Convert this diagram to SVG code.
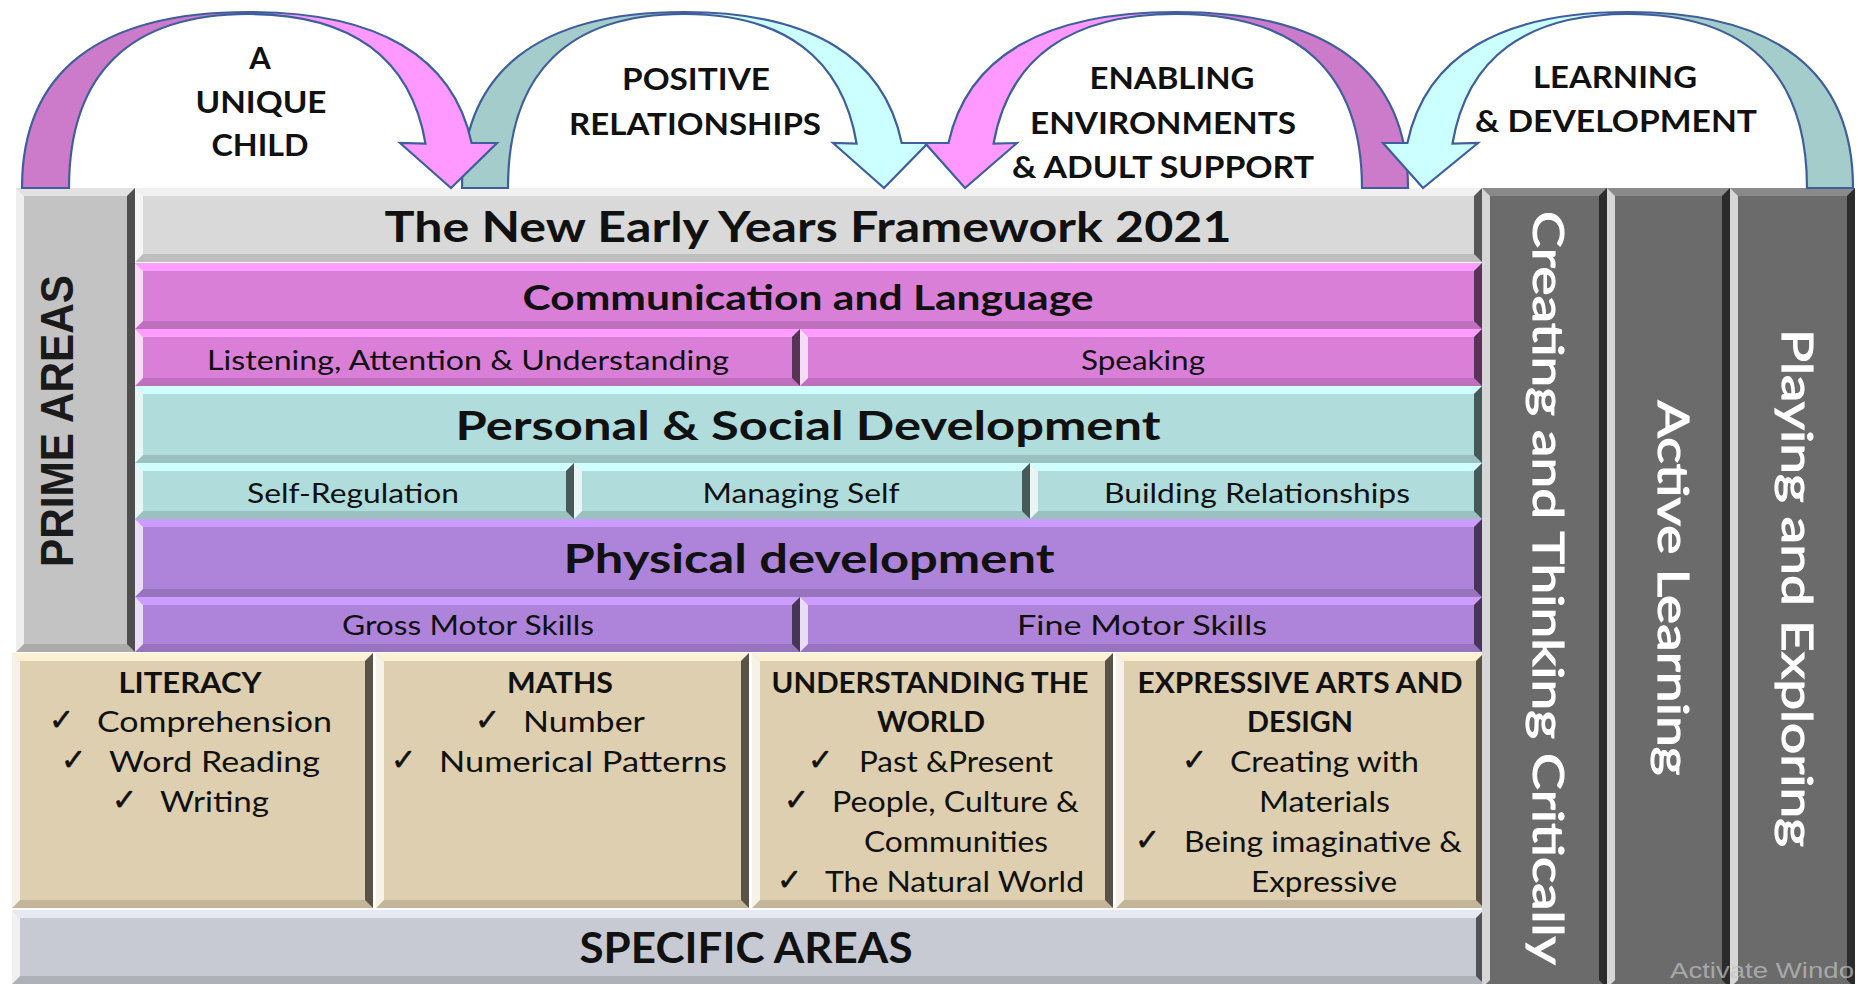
<svg xmlns="http://www.w3.org/2000/svg" width="1858" height="984" viewBox="0 0 1858 984">
<style>
.t{font-family:Lato,"Liberation Sans",sans-serif;fill:#111}
.b{font-weight:700}
.ck{font-family:"DejaVu Sans",sans-serif;font-size:30px;fill:#111;stroke:#111;stroke-width:0.6}
.it{font-size:28px}
.sub{font-size:27px}
.hd{font-size:28px;font-weight:700}
.arcl{font-size:31px;font-weight:700}
.colt{font-size:43px;fill:#fff;stroke:#fff;stroke-width:1.1}
.arc{stroke:#3F5F9C;stroke-width:2.2;stroke-linejoin:miter}
.dpk{fill:#CC7ACA}.lpk{fill:#FF99FF}.dtl{fill:#A3CCCB}.ltl{fill:#CCFFFF}
.bb{fill:#000;fill-opacity:.12}
.bl{fill:#fff;fill-opacity:.72}
.br{fill:#000;fill-opacity:.6}
.c-grey{fill:#D9D9D9}.t-grey{fill:#F1F1F1}
.c-prime{fill:#C3C3C3}.t-prime{fill:#E2E2E2}
.c-pk{fill:#DA7FD8}.t-pk{fill:#FF9CFF}
.c-tl{fill:#B0DCDB}.t-tl{fill:#CFFFFF}
.c-pu{fill:#AE84DA}.t-pu{fill:#CC9CFF}
.c-tan{fill:#DDCFAF}.t-tan{fill:#FDF1D3}
.c-spec{fill:#C8CAD3}.t-spec{fill:#E6E8F2}
.c-col{fill:#6B6B6B}.t-col{fill:#8A8A8A}
</style>
<rect width="1858" height="984" fill="#fff"/>

<g id="prime-areas">
<rect class="c-prime" x="16" y="188" width="119" height="464"/>
<path class="bb" d="M16,652 h119 l-8,-8 h-103 z"/><path class="t-prime" d="M16,188 h119 l-8,8 h-103 z"/>
<path class="bl" d="M16,188 l8,8 v448 l-8,8 z"/><path class="br" d="M135,188 l-8,8 v448 l8,8 z"/>
<text class="b" transform="translate(73,421) rotate(-90)" text-anchor="middle" font-family="'Liberation Sans',Arial,sans-serif" font-size="47" fill="#1a1a1a" textLength="292" lengthAdjust="spacingAndGlyphs">PRIME AREAS</text>
</g>

<g id="title">
<rect class="c-grey" x="135" y="188" width="1347" height="74"/>
<path class="bb" d="M135,262 h1347 l-8,-8 h-1331 z"/><path class="t-grey" d="M135,188 h1347 l-8,8 h-1331 z"/>
<path class="bl" d="M135,188 l8,8 v58 l-8,8 z"/><path class="br" d="M1482,188 l-8,8 v58 l8,8 z"/>
<text class="t b" x="808" y="242" font-size="42" text-anchor="middle" textLength="847" lengthAdjust="spacingAndGlyphs">The New Early Years Framework 2021</text>
</g>

<g id="communication-language">
<rect class="c-pk" x="135" y="263" width="1347" height="66"/>
<path class="bb" d="M135,329 h1347 l-8,-8 h-1331 z"/><path class="t-pk" d="M135,263 h1347 l-8,8 h-1331 z"/>
<path class="bl" d="M135,263 l8,8 v50 l-8,8 z"/><path class="br" d="M1482,263 l-8,8 v50 l8,8 z"/>
<text class="t b" x="808" y="310" font-size="35" text-anchor="middle" textLength="571" lengthAdjust="spacingAndGlyphs">Communication and Language</text>
</g>
<g id="listening">
<rect class="c-pk" x="135" y="329" width="665" height="57"/>
<path class="bb" d="M135,386 h665 l-8,-8 h-649 z"/><path class="t-pk" d="M135,329 h665 l-8,8 h-649 z"/>
<path class="bl" d="M135,329 l8,8 v41 l-8,8 z"/><path class="br" d="M800,329 l-8,8 v41 l8,8 z"/>
<text class="t sub" x="468" y="370" text-anchor="middle" textLength="522" lengthAdjust="spacingAndGlyphs">Listening, Attention &amp; Understanding</text>
</g>
<g id="speaking">
<rect class="c-pk" x="800" y="329" width="682" height="57"/>
<path class="bb" d="M800,386 h682 l-8,-8 h-666 z"/><path class="t-pk" d="M800,329 h682 l-8,8 h-666 z"/>
<path class="bl" d="M800,329 l8,8 v41 l-8,8 z"/><path class="br" d="M1482,329 l-8,8 v41 l8,8 z"/>
<text class="t sub" x="1143" y="370" text-anchor="middle" textLength="124" lengthAdjust="spacingAndGlyphs">Speaking</text>
</g>

<g id="personal-social">
<rect class="c-tl" x="135" y="386" width="1347" height="77"/>
<path class="bb" d="M135,463 h1347 l-8,-8 h-1331 z"/><path class="t-tl" d="M135,386 h1347 l-8,8 h-1331 z"/>
<path class="bl" d="M135,386 l8,8 v61 l-8,8 z"/><path class="br" d="M1482,386 l-8,8 v61 l8,8 z"/>
<text class="t b" x="808" y="440" font-size="40" text-anchor="middle" textLength="705" lengthAdjust="spacingAndGlyphs">Personal &amp; Social Development</text>
</g>
<g id="self-regulation">
<rect class="c-tl" x="135" y="463" width="439" height="56"/>
<path class="bb" d="M135,519 h439 l-8,-8 h-423 z"/><path class="t-tl" d="M135,463 h439 l-8,8 h-423 z"/>
<path class="bl" d="M135,463 l8,8 v40 l-8,8 z"/><path class="br" d="M574,463 l-8,8 v40 l8,8 z"/>
<text class="t sub" x="353" y="503" text-anchor="middle" textLength="212" lengthAdjust="spacingAndGlyphs">Self-Regulation</text>
</g>
<g id="managing-self">
<rect class="c-tl" x="574" y="463" width="456" height="56"/>
<path class="bb" d="M574,519 h456 l-8,-8 h-440 z"/><path class="t-tl" d="M574,463 h456 l-8,8 h-440 z"/>
<path class="bl" d="M574,463 l8,8 v40 l-8,8 z"/><path class="br" d="M1030,463 l-8,8 v40 l8,8 z"/>
<text class="t sub" x="801" y="503" text-anchor="middle" textLength="197" lengthAdjust="spacingAndGlyphs">Managing Self</text>
</g>
<g id="building-relationships">
<rect class="c-tl" x="1030" y="463" width="452" height="56"/>
<path class="bb" d="M1030,519 h452 l-8,-8 h-436 z"/><path class="t-tl" d="M1030,463 h452 l-8,8 h-436 z"/>
<path class="bl" d="M1030,463 l8,8 v40 l-8,8 z"/><path class="br" d="M1482,463 l-8,8 v40 l8,8 z"/>
<text class="t sub" x="1257" y="503" text-anchor="middle" textLength="306" lengthAdjust="spacingAndGlyphs">Building Relationships</text>
</g>

<g id="physical-development">
<rect class="c-pu" x="135" y="519" width="1347" height="78"/>
<path class="bb" d="M135,597 h1347 l-8,-8 h-1331 z"/><path class="t-pu" d="M135,519 h1347 l-8,8 h-1331 z"/>
<path class="bl" d="M135,519 l8,8 v62 l-8,8 z"/><path class="br" d="M1482,519 l-8,8 v62 l8,8 z"/>
<text class="t b" x="809" y="573" font-size="40" text-anchor="middle" textLength="491" lengthAdjust="spacingAndGlyphs">Physical development</text>
</g>
<g id="gross-motor">
<rect class="c-pu" x="135" y="597" width="665" height="55"/>
<path class="bb" d="M135,652 h665 l-8,-8 h-649 z"/><path class="t-pu" d="M135,597 h665 l-8,8 h-649 z"/>
<path class="bl" d="M135,597 l8,8 v39 l-8,8 z"/><path class="br" d="M800,597 l-8,8 v39 l8,8 z"/>
<text class="t sub" x="468" y="635" text-anchor="middle" textLength="252" lengthAdjust="spacingAndGlyphs">Gross Motor Skills</text>
</g>
<g id="fine-motor">
<rect class="c-pu" x="800" y="597" width="682" height="55"/>
<path class="bb" d="M800,652 h682 l-8,-8 h-666 z"/><path class="t-pu" d="M800,597 h682 l-8,8 h-666 z"/>
<path class="bl" d="M800,597 l8,8 v39 l-8,8 z"/><path class="br" d="M1482,597 l-8,8 v39 l8,8 z"/>
<text class="t sub" x="1142" y="635" text-anchor="middle" textLength="250" lengthAdjust="spacingAndGlyphs">Fine Motor Skills</text>
</g>

<g id="literacy">
<rect class="c-tan" x="12" y="653" width="361" height="255"/>
<path class="bb" d="M12,908 h361 l-8,-8 h-345 z"/><path class="t-tan" d="M12,653 h361 l-8,8 h-345 z"/>
<path class="bl" d="M12,653 l8,8 v239 l-8,8 z"/><path class="br" d="M373,653 l-8,8 v239 l8,8 z"/>
<text class="t hd" x="190" y="693" text-anchor="middle" textLength="143" lengthAdjust="spacingAndGlyphs">LITERACY</text>
<text class="ck" x="49" y="730">✓</text><text class="t it" x="97" y="732" textLength="235" lengthAdjust="spacingAndGlyphs">Comprehension</text>
<text class="ck" x="61" y="770">✓</text><text class="t it" x="109" y="772" textLength="211" lengthAdjust="spacingAndGlyphs">Word Reading</text>
<text class="ck" x="112" y="810">✓</text><text class="t it" x="160" y="812" textLength="109" lengthAdjust="spacingAndGlyphs">Writing</text>
</g>
<g id="maths">
<rect class="c-tan" x="376" y="653" width="373" height="255"/>
<path class="bb" d="M376,908 h373 l-8,-8 h-357 z"/><path class="t-tan" d="M376,653 h373 l-8,8 h-357 z"/>
<path class="bl" d="M376,653 l8,8 v239 l-8,8 z"/><path class="br" d="M749,653 l-8,8 v239 l8,8 z"/>
<text class="t hd" x="560" y="693" text-anchor="middle" textLength="106" lengthAdjust="spacingAndGlyphs">MATHS</text>
<text class="ck" x="475" y="730">✓</text><text class="t it" x="523" y="732" textLength="122" lengthAdjust="spacingAndGlyphs">Number</text>
<text class="ck" x="391" y="770">✓</text><text class="t it" x="439" y="772" textLength="288" lengthAdjust="spacingAndGlyphs">Numerical Patterns</text>
</g>
<g id="understanding-world">
<rect class="c-tan" x="752" y="653" width="361" height="255"/>
<path class="bb" d="M752,908 h361 l-8,-8 h-345 z"/><path class="t-tan" d="M752,653 h361 l-8,8 h-345 z"/>
<path class="bl" d="M752,653 l8,8 v239 l-8,8 z"/><path class="br" d="M1113,653 l-8,8 v239 l8,8 z"/>
<text class="t hd" x="930" y="693" text-anchor="middle" textLength="317" lengthAdjust="spacingAndGlyphs">UNDERSTANDING THE</text>
<text class="t hd" x="931" y="732" text-anchor="middle" textLength="108" lengthAdjust="spacingAndGlyphs">WORLD</text>
<text class="ck" x="808" y="770">✓</text><text class="t it" x="859" y="772" textLength="194" lengthAdjust="spacingAndGlyphs">Past &amp;Present</text>
<text class="ck" x="784" y="810">✓</text><text class="t it" x="832" y="812" textLength="247" lengthAdjust="spacingAndGlyphs">People, Culture &amp;</text>
<text class="t it" x="864" y="852" textLength="184" lengthAdjust="spacingAndGlyphs">Communities</text>
<text class="ck" x="777" y="890">✓</text><text class="t it" x="825" y="892" textLength="259" lengthAdjust="spacingAndGlyphs">The Natural World</text>
</g>
<g id="expressive-arts">
<rect class="c-tan" x="1116" y="653" width="368" height="255"/>
<path class="bb" d="M1116,908 h368 l-8,-8 h-352 z"/><path class="t-tan" d="M1116,653 h368 l-8,8 h-352 z"/>
<path class="bl" d="M1116,653 l8,8 v239 l-8,8 z"/><path class="br" d="M1484,653 l-8,8 v239 l8,8 z"/>
<text class="t hd" x="1300" y="693" text-anchor="middle" textLength="325" lengthAdjust="spacingAndGlyphs">EXPRESSIVE ARTS AND</text>
<text class="t hd" x="1300" y="732" text-anchor="middle" textLength="106" lengthAdjust="spacingAndGlyphs">DESIGN</text>
<text class="ck" x="1182" y="770">✓</text><text class="t it" x="1230" y="772" textLength="189" lengthAdjust="spacingAndGlyphs">Creating with</text>
<text class="t it" x="1259" y="812" textLength="131" lengthAdjust="spacingAndGlyphs">Materials</text>
<text class="ck" x="1135" y="850">✓</text><text class="t it" x="1184" y="852" textLength="278" lengthAdjust="spacingAndGlyphs">Being imaginative &amp;</text>
<text class="t it" x="1251" y="892" textLength="146" lengthAdjust="spacingAndGlyphs">Expressive</text>
</g>

<g id="specific-areas">
<rect class="c-spec" x="12" y="910" width="1472" height="74"/>
<path class="bb" d="M12,984 h1472 l-8,-8 h-1456 z"/><path class="t-spec" d="M12,910 h1472 l-8,8 h-1456 z"/>
<path class="bl" d="M12,910 l8,8 v58 l-8,8 z"/><path class="br" d="M1484,910 l-8,8 v58 l8,8 z"/>
<text class="t b" x="746" y="963" font-size="42" text-anchor="middle" textLength="333" lengthAdjust="spacingAndGlyphs">SPECIFIC AREAS</text>
</g>

<g id="creating-thinking">
<rect class="c-col" x="1482" y="188" width="125" height="800"/>
<path class="t-col" d="M1482,188 h125 l-8,8 h-109 z"/>
<path class="bl" d="M1482,188 l8,8 v784 l-8,8 z"/><path class="br" d="M1607,188 l-8,8 v784 l8,8 z"/>
<text class="t colt" transform="translate(1533,588) rotate(90)" text-anchor="middle" textLength="754" lengthAdjust="spacingAndGlyphs">Creating and Thinking Critically</text>
</g>
<g id="active-learning">
<rect class="c-col" x="1607" y="188" width="123" height="800"/>
<path class="t-col" d="M1607,188 h123 l-8,8 h-107 z"/>
<path class="bl" d="M1607,188 l8,8 v784 l-8,8 z"/><path class="br" d="M1730,188 l-8,8 v784 l8,8 z"/>
<text class="t colt" transform="translate(1658,588) rotate(90)" text-anchor="middle" textLength="375" lengthAdjust="spacingAndGlyphs">Active Learning</text>
</g>
<g id="playing-exploring">
<rect class="c-col" x="1730" y="188" width="125" height="800"/>
<path class="t-col" d="M1730,188 h125 l-8,8 h-109 z"/>
<path class="bl" d="M1730,188 l8,8 v784 l-8,8 z"/><path class="br" d="M1855,188 l-8,8 v784 l8,8 z"/>
<text class="t colt" transform="translate(1782,588) rotate(90)" text-anchor="middle" textLength="518" lengthAdjust="spacingAndGlyphs">Playing and Exploring</text>
</g>

<g id="connectors">
<path class="arc dtl" d="M462,188 C462,71.8 537.5,12 684,12 L684,14 C567.8,14 508,73.2 508,188 Z"/>
<path class="arc ltl" d="M684,12 C810.2,12 883.7,56.4 901.7,143 L928,143 L884,188 L833,143 L856.6,143.5 C842.3,57.9 784.1,14 684,14 Z"/>
<path class="arc dpk" d="M22,188 C22,71.8 99.2,12 249,12 L249,14 C130.2,14 69,73.2 69,188 Z"/>
<path class="arc lpk" d="M249,12 C378.1,12 453.2,56.4 471.6,143 L497,143 L451,188 L400,143 L425.5,143.5 C410.9,57.9 351.3,14 249,14 Z"/>
<path class="arc dpk" d="M1408,188 C1408,71.8 1329.1,12 1176,12 L1176,14 C1298.8,14 1362,73.2 1362,188 Z"/>
<path class="arc lpk" d="M1176,12 C1044.1,12 967.3,56.4 948.5,143 L925,143 L965,188 L1017,143 L993.6,143.5 C1008.7,57.9 1070.2,14 1176,14 Z"/>
<path class="arc dtl" d="M1853,188 C1853,71.8 1776.5,12 1628,12 L1628,14 C1746.1,14 1807,73.2 1807,188 Z"/>
<path class="arc ltl" d="M1628,12 C1500.1,12 1425.6,56.4 1407.4,143 L1383,143 L1423,188 L1478,143 L1452.5,143.5 C1467,57.9 1526.2,14 1628,14 Z"/>
</g>

<g id="unique-child">
<text class="t arcl" x="260" y="69" text-anchor="middle">A</text>
<text class="t arcl" x="261" y="113" text-anchor="middle" textLength="131" lengthAdjust="spacingAndGlyphs">UNIQUE</text>
<text class="t arcl" x="260" y="156" text-anchor="middle" textLength="97" lengthAdjust="spacingAndGlyphs">CHILD</text>
</g>
<g id="positive-relationships">
<text class="t arcl" x="696" y="90" text-anchor="middle" textLength="148" lengthAdjust="spacingAndGlyphs">POSITIVE</text>
<text class="t arcl" x="695" y="135" text-anchor="middle" textLength="252" lengthAdjust="spacingAndGlyphs">RELATIONSHIPS</text>
</g>
<g id="enabling-environments">
<text class="t arcl" x="1172" y="89" text-anchor="middle" textLength="165" lengthAdjust="spacingAndGlyphs">ENABLING</text>
<text class="t arcl" x="1163" y="134" text-anchor="middle" textLength="266" lengthAdjust="spacingAndGlyphs">ENVIRONMENTS</text>
<text class="t arcl" x="1163" y="178" text-anchor="middle" textLength="302" lengthAdjust="spacingAndGlyphs">&amp; ADULT SUPPORT</text>
</g>
<g id="learning-development">
<text class="t arcl" x="1615" y="88" text-anchor="middle" textLength="164" lengthAdjust="spacingAndGlyphs">LEARNING</text>
<text class="t arcl" x="1616" y="132" text-anchor="middle" textLength="282" lengthAdjust="spacingAndGlyphs">&amp; DEVELOPMENT</text>
</g>

<text x="1670" y="978" font-family="'Liberation Sans',Arial,sans-serif" font-size="22" fill="#C4C4C4" fill-opacity="0.7" textLength="184" lengthAdjust="spacingAndGlyphs">Activate Windo</text>
</svg>
